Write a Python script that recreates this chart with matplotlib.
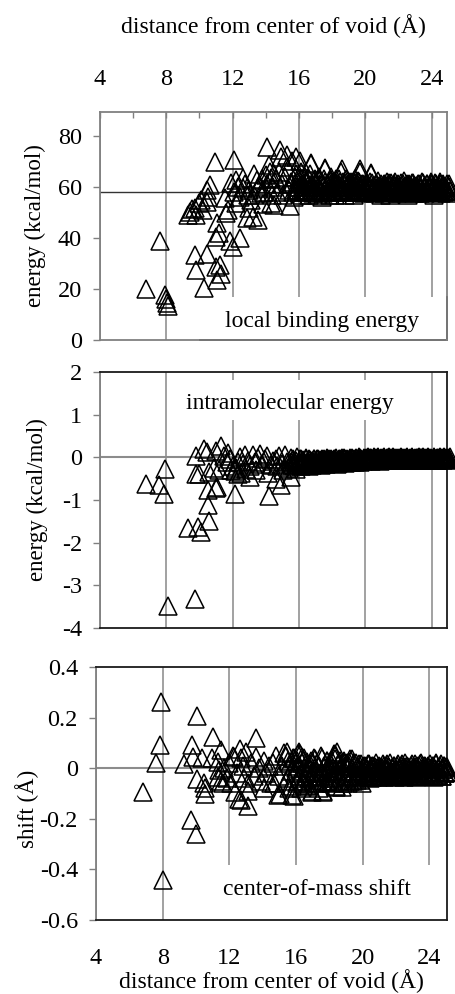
import matplotlib
matplotlib.use("Agg")
import matplotlib.pyplot as plt
from matplotlib.patches import Rectangle
from matplotlib.lines import Line2D
from matplotlib.ticker import FixedLocator, FuncFormatter

plt.rcParams['font.family'] = ['Liberation Serif', 'DejaVu Serif']
plt.rcParams['axes.unicode_minus'] = False

# ---- inner (sparse) molecules, one list pair per quantity ----
bind_x = [6.75, 7.6, 7.9, 7.98, 8.04, 8.1,
          9.3, 9.43, 9.55, 9.7, 9.82, 9.72, 9.78, 10.0, 10.1, 10.2, 10.27, 10.43,
          10.45, 10.5, 10.63, 10.43, 10.93, 11.0, 11.03, 11.0, 11.05, 11.2, 11.23,
          11.3, 11.53, 11.63, 11.7, 11.83, 11.9, 12.0, 12.07, 12.1, 12.2, 12.23,
          12.3, 12.43, 12.45, 12.6, 12.65, 12.75, 12.84, 12.9, 12.96, 13.0, 13.1,
          13.2, 13.3, 13.3, 13.44, 13.5, 13.5, 13.6, 13.74, 13.8, 13.85, 13.9,
          14.0, 14.06, 14.1, 14.2, 14.25, 14.3, 14.34, 14.4, 14.45, 14.5, 14.5,
          14.84, 14.94, 15.3, 15.45, 15.84, 16.05, 16.75, 17.55, 18.6, 19.66, 20.37]
bind_y = [20.0, 39.0, 17.5, 16.0, 14.5, 13.5,
          49.0, 50.0, 51.5, 51.8, 49.0, 33.3, 27.5, 53.6, 55.0, 51.0, 20.4, 33.7,
          58.8, 56.2, 60.8, 54.0, 69.9, 28.7, 46.0, 40.5, 23.5, 42.0, 29.4,
          26.0, 55.5, 49.7, 51.0, 39.0, 61.5, 36.6, 70.6, 58.0, 53.6, 62.7,
          60.0, 40.0, 56.0, 63.5, 59.6, 61.0, 47.8, 56.9, 51.8, 59.0, 55.0,
          48.4, 57.0, 65.0, 62.7, 59.5, 47.0, 60.5, 57.5, 63.0, 53.5, 58.0,
          64.7, 75.8, 61.0, 68.5, 66.0, 63.5, 53.6, 57.0, 60.0, 53.0, 65.0,
          74.5, 71.9, 72.5, 52.7, 71.9, 70.0, 69.3, 67.5, 67.0, 67.0, 65.6]

intra_x = [6.8, 7.57, 7.86, 7.92, 8.08, 9.76, 9.32, 9.93, 10.12, 10.58, 10.53,
           10.53, 11.07, 11.0, 9.78, 10.3, 10.47, 9.8, 10.0, 10.6, 10.9, 11.2,
           11.0, 11.3, 11.73, 12.13, 14.2, 14.94, 15.55, 13.03, 12.5, 14.15, 14.64,
           11.5, 11.65, 11.85, 12.0, 12.2, 12.3, 12.45, 12.6, 12.75, 12.9, 13.05,
           13.2, 13.35, 13.5, 13.65, 13.8, 13.95, 14.1, 14.3, 14.45, 12.15, 12.35,
           11.9, 13.4, 12.8]
intra_y = [-0.62, -0.66, -0.85, -0.27, -3.49, -3.33, -1.66, -1.63, -1.75, -1.49, -1.12,
           -0.77, -0.7, -0.73, 0.04, 0.2, 0.12, -0.38, -0.38, -0.34, -0.26, -0.3,
           0.16, 0.27, 0.1, -0.85, -0.9, -0.66, -0.47, -0.47, -0.36, -0.36, -0.5,
           0.02, -0.12, -0.05, -0.2, -0.25, -0.1, 0.0, -0.15, 0.05, -0.08, -0.2,
           0.06, -0.12, -0.02, 0.08, -0.15, -0.05, 0.04, -0.18, -0.08, -0.32, -0.38,
           -0.3, -0.3, -0.28]

shift_x = [7.9, 10.07, 7.84, 7.6, 6.8, 8.0, 9.7, 9.99, 9.3, 9.76, 9.8, 11.0,
           10.38, 10.98, 10.07, 10.5, 10.52, 10.55, 11.5, 11.3, 11.35, 11.3, 11.5,
           12.35, 12.55, 13.09, 13.1, 13.1, 13.6, 12.65, 12.3, 12.7, 13.6, 14.9,
           15.75, 15.4, 16.25, 16.96, 17.6, 18.36, 18.4, 19.26, 12.7, 15.45, 16.2,
           18.45, 11.7, 11.85, 12.0, 12.1, 12.45, 12.8, 12.9, 13.3, 13.45, 13.8,
           13.9, 14.05, 14.2, 14.4, 14.5, 11.6, 12.2, 13.0, 14.1]
shift_y = [0.26, 0.206, 0.091, 0.019, -0.094, -0.44, -0.204, -0.259, 0.016, 0.091,
           0.045, 0.124, 0.041, 0.041, -0.041, -0.06, -0.08, -0.1, 0.071, 0.025,
           -0.008, -0.035, -0.05, -0.095, -0.12, -0.148, -0.09, -0.06, 0.12, 0.077,
           0.045, 0.04, 0.045, -0.107, -0.107, 0.05, 0.055, -0.094, -0.094, 0.055,
           -0.075, 0.035, -0.127, 0.065, 0.065, 0.065, 0.0, -0.04, 0.02, -0.06,
           -0.02, 0.01, -0.04, 0.02, -0.03, 0.0, -0.05, 0.03, -0.02, 0.01, -0.06,
           -0.06, 0.05, 0.065, -0.08]

# ---- outer shell molecules, first set (shared distances) ----
shell_dist = [14.6, 14.7, 14.8, 14.95, 15.05, 15.15, 15.3, 15.4, 15.5, 15.6, 15.7, 15.8, 15.9,
              16.0, 16.06, 16.14, 16.2, 16.3, 16.36, 16.44, 16.5, 16.6, 16.66, 16.75, 16.8, 16.9, 16.96,
              17.05, 17.1, 17.2, 17.26, 17.34, 17.4, 17.5, 17.56, 17.64, 17.7, 17.8, 17.86, 17.95,
              18.0, 18.1, 18.16, 18.24, 18.3, 18.4, 18.46, 18.55, 18.6, 18.7, 18.76, 18.85, 18.9,
              19.0, 19.06, 19.14, 19.2, 19.3, 19.36, 19.44, 19.5, 19.6, 19.66, 19.75, 19.8, 19.9, 19.96,
              20.04, 20.1, 20.16, 20.22, 20.3, 20.36, 20.42, 20.5, 20.56, 20.62, 20.7, 20.76, 20.82, 20.9, 20.96,
              21.02, 21.1, 21.16, 21.22, 21.3, 21.36, 21.42, 21.5, 21.56, 21.62, 21.7, 21.76, 21.82, 21.9, 21.96,
              22.02, 22.1, 22.16, 22.22, 22.3, 22.36, 22.42, 22.5, 22.56, 22.62, 22.7, 22.76, 22.82, 22.9, 22.96,
              23.02, 23.1, 23.16, 23.22, 23.3, 23.36, 23.42, 23.5, 23.56, 23.62, 23.7, 23.76, 23.82, 23.9, 23.96,
              24.02, 24.1, 24.16, 24.22, 24.3, 24.36, 24.42, 24.5, 24.56, 24.62, 24.7, 24.76, 24.82, 24.9, 24.96,
              25.04, 25.1]
shell_bind = [63, 58, 66, 61, 57, 64, 68, 59, 62, 70, 56, 65, 60,
              63, 58, 66, 57, 61, 64, 59, 62, 57, 65, 69, 60, 58, 63,
              61, 57, 64, 59, 62, 56, 63, 67, 60, 58, 62, 57, 64,
              59, 61, 57, 63, 60, 58, 62, 66, 59, 61, 57, 63, 60,
              58, 62, 59, 61, 57, 63, 60, 58, 62, 66, 59, 61, 57.5, 60.5,
              59, 61.5, 58, 60, 62, 65, 58.5, 60.5, 57.5, 61, 59, 62.5, 58, 60, 57,
              59.5, 61, 57.5, 60, 62, 58.5, 60.5, 57, 61.5, 59, 58, 60.5, 62, 57.5, 59.5,
              60, 58, 61.5, 57.5, 59.5, 62.5, 58.5, 60, 57, 61, 59, 60.5, 58, 61.5, 57.5,
              59, 60.5, 58, 61, 57.5, 59.5, 62, 58.5, 60, 57.5, 61, 59, 58, 60.5, 62,
              58.5, 60, 57, 61.5, 59, 58, 60.5, 62, 57.5, 59.5, 61, 58, 60, 57.5, 59,
              61, 58.5]
shell_intra = [-0.05, -0.2, 0.02, -0.15, -0.3, 0.05, -0.1, -0.25, -0.02, -0.18, -0.08, -0.28, 0.0,
               -0.15, -0.05, -0.2, -0.08, -0.12, -0.18, -0.04, -0.14, -0.2, -0.06, -0.1, -0.17, -0.05, -0.13,
               -0.09, -0.03, -0.16, -0.07, -0.19, -0.04, -0.12, -0.06, -0.15, -0.02, -0.1, -0.14, -0.05,
               -0.12, -0.05, -0.1, -0.02, -0.15, -0.07, -0.03, -0.12, -0.06, -0.01, -0.13, -0.08, -0.04,
               -0.09, -0.03, -0.12, -0.01, -0.06, -0.1, -0.02, -0.08, 0.0, -0.11, -0.05, -0.07, -0.01, -0.06,
               -0.03, -0.07, 0.0, -0.05, -0.02, -0.09, -0.04, 0.01, -0.06, -0.02, -0.07, 0.0, -0.04, -0.08, -0.02,
               -0.05, 0.01, -0.03, -0.07, -0.01, -0.05, 0.0, -0.06, -0.03, -0.05, 0.01, -0.04, -0.07, -0.01, -0.04,
               -0.02, -0.06, 0.0, -0.04, -0.07, -0.02, -0.05, 0.01, -0.03, -0.06, -0.01, -0.04, 0.0, -0.05, -0.03,
               -0.06, -0.01, -0.04, 0.01, -0.07, -0.02, -0.05, 0.0, -0.03, -0.06, -0.02, 0.01, -0.04, -0.06, -0.02,
               -0.03, -0.06, 0.0, -0.04, -0.01, -0.07, -0.03, 0.01, -0.05, -0.02, -0.07, 0.0, -0.04, -0.06, -0.01,
               -0.05, 0.0]
shell_shift = [0.02, -0.06, 0.05, -0.03, -0.1, 0.01, 0.06, -0.05, 0.03, -0.08, -0.01, 0.04, -0.11,
               0.0, -0.06, 0.055, -0.03, -0.08, 0.02, -0.05, 0.04, -0.02, -0.07, 0.01, -0.04, 0.03, -0.09,
               -0.01, 0.04, -0.06, 0.02, -0.03, -0.08, 0.05, -0.02, -0.09, 0.01, -0.05, 0.03, -0.04,
               0.0, -0.06, 0.03, -0.03, 0.055, -0.07, -0.01, 0.02, -0.05, 0.01, -0.075, 0.03, -0.02,
               -0.04, 0.02, -0.06, 0.01, -0.03, 0.035, -0.05, -0.01, 0.02, -0.045, 0.0, -0.03, 0.015, -0.06,
               -0.02, 0.01, -0.035, 0.0, -0.025, 0.015, -0.04, -0.01, 0.01, -0.03, 0.0, -0.02, 0.02, -0.035, -0.01,
               0.005, -0.03, -0.01, 0.015, -0.035, -0.005, 0.01, -0.025, -0.015, 0.02, -0.03, 0.0, -0.02, 0.01, -0.035,
               -0.01, 0.015, -0.03, -0.005, 0.01, -0.025, 0.0, -0.035, 0.02, -0.015, 0.005, -0.03, -0.01, 0.01, -0.02,
               0.0, -0.025, 0.015, -0.035, -0.01, 0.01, -0.02, 0.02, -0.03, 0.0, -0.015, 0.01, -0.03, 0.005, -0.02,
               0.015, -0.03, -0.005, 0.01, -0.035, -0.015, 0.02, -0.025, 0.0, -0.01, 0.015, -0.03, -0.005, 0.01,
               -0.02, 0.005, -0.015]

# ---- outer shell molecules, second set ----
shell2_dist = [15.53, 15.63, 15.75, 15.85, 15.95,
               16.03, 16.1, 16.17, 16.25, 16.33, 16.4, 16.47, 16.55, 16.63, 16.7, 16.78, 16.85, 16.93,
               17.0, 17.08, 17.15, 17.23, 17.3, 17.37, 17.45, 17.53, 17.6, 17.67, 17.75, 17.83, 17.9, 17.98,
               18.05, 18.13, 18.2, 18.27, 18.35, 18.43, 18.5, 18.58, 18.65, 18.73, 18.8, 18.88, 18.95,
               19.03, 19.1, 19.17, 19.25, 19.33, 19.4, 19.47, 19.55, 19.63, 19.7, 19.78, 19.85, 19.93,
               20.0, 20.07, 20.13, 20.19, 20.26, 20.33, 20.39, 20.46, 20.53, 20.59, 20.66, 20.73, 20.79, 20.86, 20.93, 20.99,
               21.06, 21.13, 21.19, 21.26, 21.33, 21.39, 21.46, 21.53, 21.59, 21.66, 21.73, 21.79, 21.86, 21.93, 21.99,
               22.06, 22.13, 22.19, 22.26, 22.33, 22.39, 22.46, 22.53, 22.59, 22.66, 22.73, 22.79, 22.86, 22.93, 22.99,
               23.06, 23.13, 23.19, 23.26, 23.33, 23.39, 23.46, 23.53, 23.59, 23.66, 23.73, 23.79, 23.86, 23.93, 23.99,
               24.06, 24.13, 24.19, 24.26, 24.33, 24.39, 24.46, 24.53, 24.59, 24.66, 24.73, 24.79, 24.86, 24.93, 24.99, 25.07]
shell2_bind = [61, 58, 64, 59, 62,
               60, 63, 58.5, 61, 59, 62.5, 58, 60.5, 63, 59.5, 61.5, 57.5, 60,
               62, 58.5, 60, 63, 59, 61, 57.5, 60.5, 62, 58, 61, 59.5, 62.5, 58.5,
               60.5, 62, 58, 61, 59.5, 63, 58.5, 60, 62, 59, 61.5, 58, 60.5,
               61, 59, 62, 58.5, 60, 61.5, 59, 62.5, 58, 60.5, 59.5, 61, 58.5,
               60, 58.5, 61, 59.5, 60.5, 58, 61.5, 59, 60, 58.5, 61, 59.5, 60.5, 58, 61, 59,
               60.5, 58.5, 61, 59, 60, 58, 61.5, 59.5, 60.5, 58.5, 61, 59, 60, 58, 61,
               59, 60.5, 58.5, 61, 59.5, 60, 58, 61, 59, 60.5, 58.5, 61.5, 59.5, 60, 58.5,
               60.5, 59, 61, 58.5, 60, 59.5, 61.5, 58, 60.5, 59, 61, 58.5, 60, 59.5, 61,
               59, 60.5, 58.5, 61, 59.5, 60, 58, 61, 59, 60.5, 58.5, 60, 59.5, 61, 58.5, 60]
shell2_intra = [-0.12, -0.04, -0.2, -0.08, -0.15,
                -0.1, -0.03, -0.16, -0.07, -0.12, -0.02, -0.18, -0.09, -0.05, -0.14, -0.08, -0.11, -0.04,
                -0.08, -0.13, -0.04, -0.1, -0.15, -0.06, -0.11, -0.03, -0.12, -0.07, -0.14, -0.05, -0.1, -0.08,
                -0.06, -0.11, -0.03, -0.09, -0.13, -0.05, -0.1, -0.02, -0.08, -0.12, -0.04, -0.09, -0.06,
                -0.07, -0.02, -0.1, -0.05, -0.08, -0.03, -0.09, -0.04, -0.07, -0.01, -0.06, -0.08, -0.03,
                -0.04, -0.02, -0.06, -0.03, -0.05, -0.01, -0.04, -0.06, -0.02, -0.05, -0.03, -0.06, -0.01, -0.04, -0.03, -0.05,
                -0.02, -0.05, -0.03, -0.04, -0.06, -0.02, -0.04, -0.01, -0.05, -0.03, -0.06, -0.02, -0.04, -0.03, -0.05,
                -0.03, -0.05, -0.02, -0.06, -0.03, -0.04, -0.01, -0.05, -0.03, -0.04, -0.06, -0.02, -0.04, -0.05, -0.02,
                -0.04, -0.02, -0.05, -0.03, -0.06, -0.02, -0.04, -0.05, -0.01, -0.04, -0.03, -0.05, -0.02, -0.04, -0.03,
                -0.05, -0.02, -0.04, -0.03, -0.06, -0.02, -0.04, -0.01, -0.05, -0.03, -0.04, -0.02, -0.05, -0.03, -0.04, -0.02]
shell2_shift = [-0.04, 0.02, -0.07, 0.04, -0.02,
                0.03, -0.05, 0.01, -0.03, 0.045, -0.06, 0.0, -0.04, 0.025, -0.02, -0.065, 0.015, -0.035,
                0.02, -0.045, 0.035, -0.015, -0.06, 0.01, -0.03, 0.04, -0.05, 0.0, -0.025, 0.03, -0.055, -0.01,
                0.025, -0.04, 0.0, -0.055, 0.035, -0.02, 0.015, -0.045, 0.03, -0.01, -0.06, 0.02, -0.035,
                0.01, -0.03, 0.025, -0.05, 0.0, -0.02, 0.02, -0.04, 0.005, -0.025, 0.015, -0.045, -0.01,
                0.005, -0.02, 0.01, -0.03, -0.005, 0.015, -0.025, 0.0, -0.035, 0.01, -0.015, 0.005, -0.03, 0.0, -0.02, 0.01,
                -0.025, 0.0, -0.01, 0.01, -0.03, -0.005, 0.015, -0.02, 0.005, -0.03, 0.0, -0.015, 0.01, -0.025, -0.005,
                0.01, -0.02, 0.0, -0.03, 0.015, -0.01, -0.025, 0.005, -0.015, 0.01, -0.03, 0.0, -0.02, 0.015, -0.01,
                -0.02, 0.005, -0.03, 0.01, -0.01, -0.025, 0.015, -0.005, -0.02, 0.01, -0.03, 0.0, -0.015, 0.01, -0.025,
                0.0, -0.02, 0.01, -0.03, -0.005, 0.015, -0.025, 0.0, -0.015, 0.01, -0.03, -0.005, 0.01, -0.02, 0.005, -0.015]

x_ticks = [4, 8, 12, 16, 20, 24]
bind_ticks = [0, 20, 40, 60, 80]
intra_ticks = [-4, -3, -2, -1, 0, 1, 2]
shift_ticks = [-0.6, -0.4, -0.2, 0, 0.2, 0.4]
bind_baseline = 58.2

GRID = '#9a9a9a'
SPINE_LIGHT = '#808080'
SPINE_DARK = '#1a1a1a'
FS_TICK = 17.5
FS_YLABEL = 16.5
FS_XLABEL = 17
FS_NOTE = 17

fig = plt.figure(figsize=(4.56, 9.94), dpi=100)
W, H = 456.0, 994.0
ax1 = fig.add_axes([100 / W, 1 - 340 / H, 347 / W, 228 / H])
ax2 = fig.add_axes([100 / W, 1 - 628 / H, 347 / W, 256 / H])
ax3 = fig.add_axes([96 / W, 1 - 920 / H, 351 / W, 253 / H])

fmt = FuncFormatter(lambda v, p: ('%g' % round(v, 2)))

marker_kw = dict(linestyle='none', marker='^', markersize=13, markerfacecolor='none',
                 markeredgecolor='black', markeredgewidth=1.1, zorder=4, clip_on=False)


def base_style(ax, xmax, ylim, yticks, spine_colors):
    ax.set_xlim(4, xmax)
    ax.set_ylim(*ylim)
    ax.xaxis.set_major_locator(FixedLocator(x_ticks))
    ax.yaxis.set_major_locator(FixedLocator(yticks))
    ax.yaxis.set_major_formatter(fmt)
    ax.grid(axis='x', color=GRID, linewidth=1.3, zorder=0)
    ax.set_axisbelow(True)
    for side, c in spine_colors.items():
        ax.spines[side].set_color(c)
        ax.spines[side].set_linewidth(1.3)
    ax.tick_params(axis='y', direction='out', length=5, width=1.0, color=SPINE_LIGHT,
                   labelsize=FS_TICK, pad=8)


def note_box(ax, x0, y0, w, h):
    ax.add_patch(Rectangle((x0, y0), w, h, transform=ax.transAxes, facecolor='white',
                           edgecolor='none', zorder=1.5))


# top panel: local binding energy
base_style(ax1, 24.93, (0, 89.4), bind_ticks,
           dict(left=SPINE_LIGHT, right=SPINE_LIGHT, top=SPINE_LIGHT, bottom=SPINE_LIGHT))
ax1.xaxis.tick_top()
ax1.xaxis.set_label_position('top')
ax1.xaxis.set_minor_locator(FixedLocator([6, 10, 14, 18, 22]))
ax1.tick_params(axis='x', which='both', direction='in', length=4, width=1.0, color=SPINE_LIGHT,
                labelsize=FS_TICK, pad=15.5)
ax1.set_xlabel('distance from center of void (Å)', fontsize=FS_XLABEL, labelpad=26)
ax1.set_ylabel('energy (kcal/mol)', fontsize=FS_YLABEL)
ax1.yaxis.set_label_coords(-0.156, 0.5)
ax1.axhline(bind_baseline, color='#333333', linewidth=1.0, zorder=1)
note_box(ax1, 0.288, 0.0, 0.712, 0.189)
ax1.add_line(Line2D([0.288, 1.0], [0.0, 0.0], transform=ax1.transAxes, color='black',
                    linewidth=1.3, zorder=2.5, clip_on=False))
ax1.add_line(Line2D([1.0, 1.0], [0.0, 0.189], transform=ax1.transAxes, color='black',
                    linewidth=1.3, zorder=2.5, clip_on=False))
ax1.text(0.64, 0.079, 'local binding energy', transform=ax1.transAxes, fontsize=FS_NOTE,
         ha='center', va='center', zorder=5)
ax1.plot(bind_x, bind_y, **marker_kw)
ax1.plot(shell_dist, shell_bind, **marker_kw)
ax1.plot(shell2_dist, shell2_bind, **marker_kw)

# middle panel: intramolecular energy
base_style(ax2, 24.93, (-4, 2), intra_ticks,
           dict(left=SPINE_LIGHT, right=SPINE_DARK, top=SPINE_DARK, bottom=SPINE_DARK))
ax2.tick_params(axis='x', which='both', length=0, labelbottom=False)
ax2.set_ylabel('energy (kcal/mol)', fontsize=FS_YLABEL)
ax2.yaxis.set_label_coords(-0.151, 0.5)
ax2.axhline(0, color='#8c8c8c', linewidth=1.5, zorder=1)
note_box(ax2, 0.216, 0.8125, 0.649, 0.157)
ax2.text(0.548, 0.875, 'intramolecular energy', transform=ax2.transAxes, fontsize=FS_NOTE,
         ha='center', va='center', zorder=5)
ax2.plot(intra_x, intra_y, **marker_kw)
ax2.plot(shell_dist, shell_intra, **marker_kw)
ax2.plot(shell2_dist, shell2_intra, **marker_kw)

# bottom panel: centre-of-mass shift
base_style(ax3, 25.05, (-0.6, 0.4), shift_ticks,
           dict(left=SPINE_LIGHT, right=SPINE_DARK, top=SPINE_DARK, bottom=SPINE_DARK))
ax3.tick_params(axis='x', which='both', length=0, labelsize=FS_TICK, pad=20.5)
ax3.set_xlabel('distance from center of void (Å)', fontsize=FS_XLABEL, labelpad=0)
ax3.set_ylabel('shift (Å)', fontsize=FS_YLABEL)
ax3.yaxis.set_label_coords(-0.163, 0.44)
ax3.axhline(0, color='#8c8c8c', linewidth=1.5, zorder=1)
note_box(ax3, 0.31, 0.0, 0.69, 0.217)
ax3.text(0.63, 0.119, 'center-of-mass shift', transform=ax3.transAxes, fontsize=FS_NOTE,
         ha='center', va='center', zorder=5)
ax3.plot(shift_x, shift_y, **marker_kw)
ax3.plot(shell_dist, shell_shift, **marker_kw)
ax3.plot(shell2_dist, shell2_shift, **marker_kw)

fig.savefig('out.png', dpi=100)
